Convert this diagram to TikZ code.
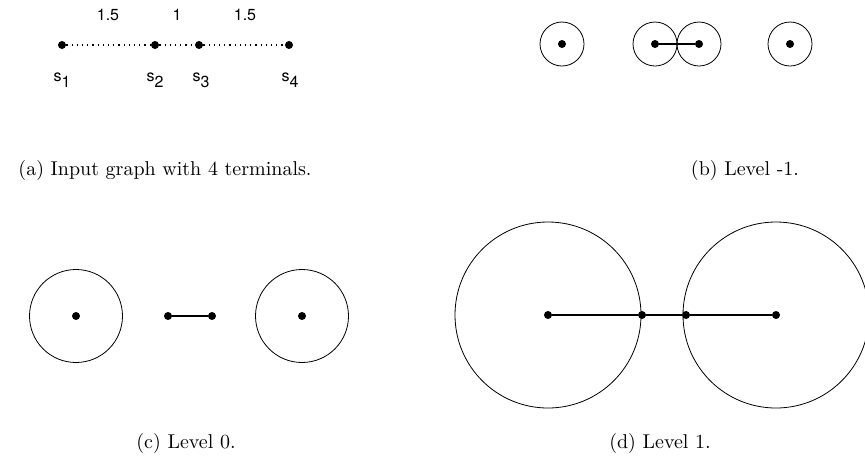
\documentclass[tikz,border=0pt]{standalone}
\usepackage{fontspec}
\newfontfamily\helv{TeX Gyre Heros}
\usetikzlibrary{positioning}

\begin{document}
\begin{tikzpicture}[x=0.5pt,y=-0.5pt,
  vtx/.style={circle,fill=black,inner sep=0pt,minimum size=4pt},
  wlabel/.style={font=\helv\fontsize{8}{9}\selectfont},
  ball/.style={line width=0.4pt},
  edge/.style={line width=0.7pt}]
\useasboundingbox (0,0) rectangle (865,456);

% (a) input graph
\node[vtx] (A1) at (62,45) {};

\node[vtx] (A2) at (155,45) {};

\node[vtx] (A3) at (199,45) {};

\node[vtx] (A4) at (289,45) {};

\draw[dotted,line width=0.6pt] (A1) -- (A2);

\draw[dotted,line width=0.6pt] (A2) -- (A3);

\draw[dotted,line width=0.6pt] (A3) -- (A4);

\node[wlabel] (W1) at (108,15) {1.5};

\node[wlabel] (W2) at (177,15) {1};

\node[wlabel] (W3) at (245,15) {1.5};

\node[wlabel] (S1) at (62,80) {s\raisebox{-0.7ex}{1}};

\node[wlabel] (S2) at (155,80) {s\raisebox{-0.7ex}{2}};

\node[wlabel] (S3) at (201,80) {s\raisebox{-0.7ex}{3}};

\node[wlabel] (S4) at (290,80) {s\raisebox{-0.7ex}{4}};

\node (capA) at (165,170) {(a) Input graph with 4 terminals.};

% (b) level -1
\node[vtx] (B1) at (562,44) {};

\node[vtx] (B2) at (655,44) {};

\node[vtx] (B3) at (699,44) {};

\node[vtx] (B4) at (790,44) {};

\draw[ball] (B1) circle (22);

\draw[ball] (B2) circle (22);

\draw[ball] (B3) circle (22);

\draw[ball] (B4) circle (22);

\draw[edge] (B2) -- (B3);

\node (capB) at (745,170) {(b) Level -1.};

% (c) level 0
\node[vtx] (C1) at (76,316) {};

\node[vtx] (C2) at (168,316) {};

\node[vtx] (C3) at (212,316) {};

\node[vtx] (C4) at (302,316) {};

\draw[ball] (C1) circle (46.5);

\draw[ball] (C4) circle (46.5);

\draw[edge] (C2) -- (C3);

\node (capC) at (186,443) {(c) Level 0.};

% (d) level 1
\node[vtx] (D1) at (548,315) {};

\node[vtx] (D2) at (642,315) {};

\node[vtx] (D3) at (686,315) {};

\node[vtx] (D4) at (776,315) {};

\draw[ball] (D1) circle (93);

\draw[ball] (D4) circle (93);

\draw[edge] (D1) -- (D2);

\draw[edge] (D2) -- (D3);

\draw[edge] (D3) -- (D4);

\node (capD) at (660,443) {(d) Level 1.};

\end{tikzpicture}
\end{document}
